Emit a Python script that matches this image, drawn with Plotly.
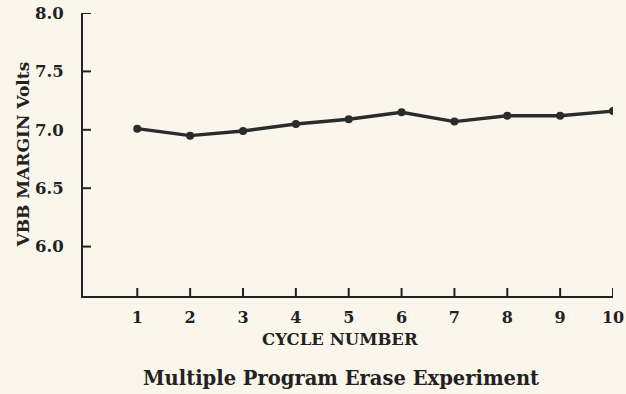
import plotly.graph_objects as go

# Erase/program cycle test data
cycles = [1, 2, 3, 4, 5, 6, 7, 8, 9, 10]
vbb_margin = [7.01, 6.95, 6.99, 7.05, 7.09, 7.15, 7.07, 7.12, 7.12, 7.16]
y_ticks = [6.0, 6.5, 7.0, 7.5, 8.0]

paper = "#fbf6ec"
ink = "#222222"
serif = "DejaVu Serif, Liberation Serif, serif"

fig = go.Figure(
    go.Scatter(
        x=cycles,
        y=vbb_margin,
        mode="lines+markers",
        line=dict(color="#2b2b2b", width=3.4),
        marker=dict(color="#2b2b2b", size=8),
        hoverinfo="skip",
    )
)

fig.update_layout(
    width=626,
    height=394,
    margin=dict(l=83, r=13, t=13, b=98),
    paper_bgcolor=paper,
    plot_bgcolor=paper,
    showlegend=False,
)

fig.update_xaxes(
    range=[-0.027, 10.0],
    tickmode="array",
    tickvals=cycles,
    ticks="",
    showline=True,
    linecolor=ink,
    linewidth=2,
    showgrid=False,
    zeroline=False,
    automargin=False,
    ticklabelstandoff=6,
    tickfont=dict(family=serif, size=16, color=ink, weight="bold"),
)

fig.update_yaxes(
    range=[5.577, 8.0],
    tickmode="array",
    tickvals=y_ticks,
    tickformat=".1f",
    ticks="",
    showline=True,
    linecolor=ink,
    linewidth=2,
    showgrid=False,
    zeroline=False,
    automargin=False,
    ticklabelstandoff=14,
    tickfont=dict(family=serif, size=16.5, color=ink, weight="bold"),
)

# Short inward tick marks at each tick value (length given as a fraction of the plot area)
x_tick_len = 8 / 283
y_tick_len = 8 / 530
for c in cycles:
    fig.add_shape(type="line", xref="x", yref="paper", x0=c, x1=c, y0=0, y1=x_tick_len,
                  line=dict(color=ink, width=2), layer="above")
for v in y_ticks:
    fig.add_shape(type="line", xref="paper", yref="y", x0=0, x1=y_tick_len, y0=v, y1=v,
                  line=dict(color=ink, width=2), layer="above")

fig.add_annotation(
    text="VBB MARGIN Volts",
    xref="paper", yref="paper",
    x=-0.115, y=0.5,
    xanchor="center", yanchor="middle",
    textangle=-90,
    showarrow=False,
    font=dict(family=serif, size=17, color=ink, weight="bold"),
)
fig.add_annotation(
    text="CYCLE NUMBER",
    xref="paper", yref="paper",
    x=0.485, y=-0.155,
    xanchor="center", yanchor="middle",
    showarrow=False,
    font=dict(family=serif, size=16.5, color=ink, weight="bold"),
)
fig.add_annotation(
    text="Multiple Program Erase Experiment",
    xref="paper", yref="paper",
    x=0.487, y=-0.29,
    xanchor="center", yanchor="middle",
    showarrow=False,
    font=dict(family=serif, size=19.5, color=ink, weight="bold"),
)

fig.write_html("out.html")
